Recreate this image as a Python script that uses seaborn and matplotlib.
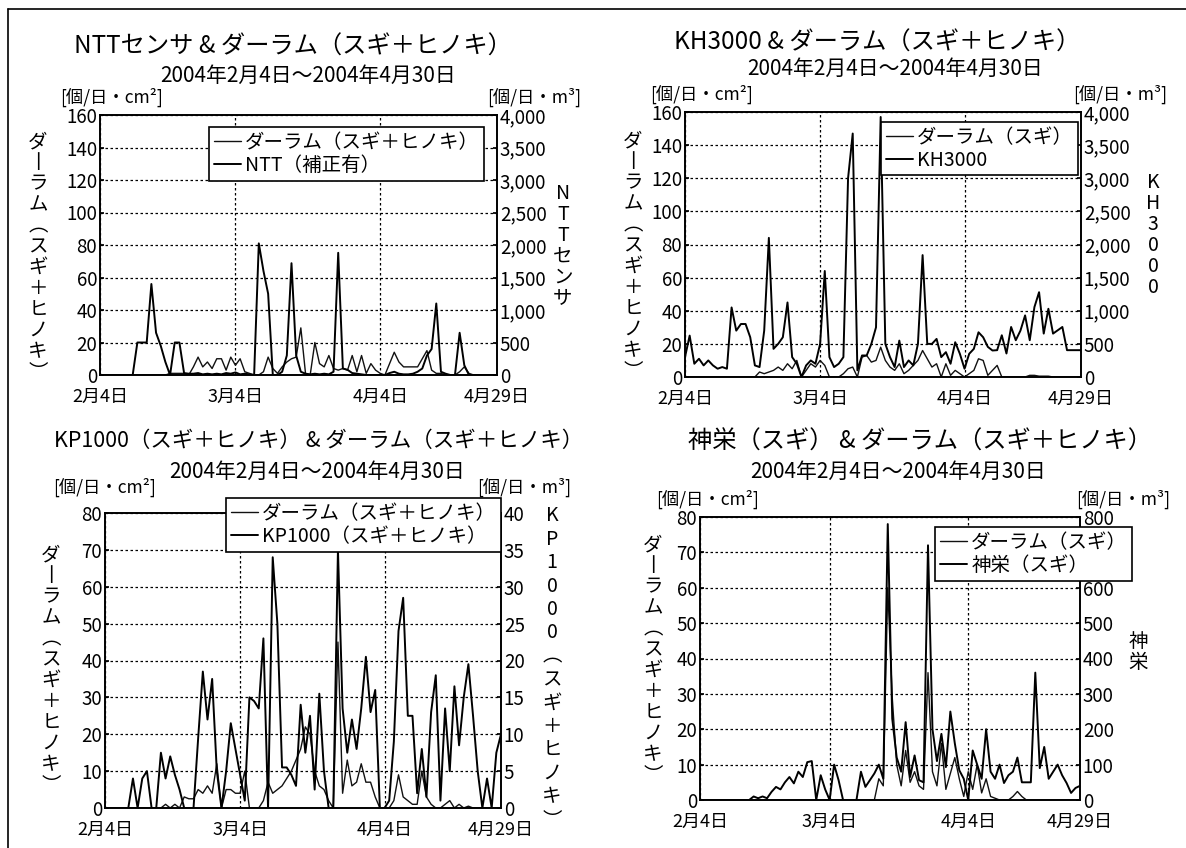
import numpy as np
import matplotlib
matplotlib.use('Agg')
import matplotlib.pyplot as plt
import seaborn as sns
from matplotlib.lines import Line2D
from matplotlib.ticker import FuncFormatter

# 日付軸 (0 = 2月4日, 85 = 4月29日)
days = list(range(86))
date_ticks = [0, 29, 60, 85]
date_labels = ['2月4日', '3月4日', '4月4日', '4月29日']

period = '2004年2月4日～2004年4月30日'
unit_left = '[個/日・cm²]'
unit_right = '[個/日・m³]'

# パネル1: NTTセンサ
ntt_durham = [0, 0, 0, 0, 0, 0, 0, 0, 0, 0,
              0, 0, 0, 0, 0, 1, 1, 1, 1, 0,
              5, 11, 5, 8, 4, 10, 10, 3, 11, 6,
              10, 2, 1, 0, 0, 2, 11, 4, 1, 5,
              8, 10, 11, 29, 1, 0, 20, 7, 5, 12,
              4, 3, 4, 3, 12, 2, 12, 1, 7, 3,
              1, 0, 7, 14, 8, 5, 5, 5, 5, 10,
              15, 3, 1, 1, 0, 0, 0, 2, 5, 1,
              0, 0, 0, 0, 0, 0]
ntt_sensor = [0, 0, 0, 0, 0, 0, 0, 0, 500, 500,
              500, 1400, 650, 450, 200, 0, 500, 500, 30, 20,
              20, 30, 10, 20, 10, 20, 10, 30, 20, 40,
              10, 20, 10, 0, 2025, 1600, 1250, 0, 0, 50,
              300, 1720, 300, 50, 20, 10, 20, 10, 20, 10,
              50, 1880, 100, 80, 30, 20, 10, 0, 0, 0,
              0, 0, 30, 50, 20, 10, 10, 20, 50, 100,
              300, 400, 1100, 50, 20, 0, 0, 650, 150, 0,
              0, 0, 0, 0, 0, 0]

# パネル2: KH3000
kh_durham = [0, 0, 0, 0, 0, 0, 0, 0, 0, 0,
             0, 0, 0, 0, 0, 0, 3, 2, 3, 4,
             6, 4, 8, 5, 10, 0, 4, 8, 6, 10,
             7, 0, 0, 0, 2, 5, 6, 0, 12, 13,
             9, 10, 18, 10, 6, 4, 8, 2, 4, 7,
             10, 16, 11, 6, 8, 0, 8, 1, 4, 2,
             0, 2, 4, 11, 10, 1, 4, 7, 0, 0,
             0, 0, 0, 0, 1, 1, 0.5, 0.5, 0.5, 0,
             0, 0, 0, 0, 0, 0]
kh_sensor = [300, 625, 200, 275, 175, 250, 175, 125, 150, 125,
             1050, 700, 800, 800, 600, 175, 150, 700, 2100, 425,
             500, 600, 1125, 300, 200, 0, 175, 250, 200, 500,
             1600, 300, 150, 200, 300, 3000, 3675, 100, 325, 325,
             500, 750, 3925, 500, 300, 150, 550, 150, 250, 175,
             500, 1840, 500, 500, 575, 300, 375, 200, 525, 350,
             125, 350, 425, 675, 600, 455, 400, 405, 630, 355,
             755, 555, 700, 930, 555, 1055, 1280, 655, 1030, 655,
             705, 755, 405, 405, 405, 405]

# パネル3: KP1000
kp_durham = [0, 0, 0, 0, 0, 0, 0, 0, 0, 0,
             0, 0, 0, 1, 0, 1, 0, 3, 2.5, 2.5,
             5, 4, 6, 4, 12, 0, 5, 5, 4, 4,
             10, 0, 0, 0, 2, 7, 4, 5, 6, 8,
             10, 13, 16, 22, 20, 10, 6, 5, 2, 0,
             45, 4, 13, 6, 7, 12, 7, 7, 3, 0,
             0, 0, 2, 9, 3, 2, 1, 1, 10, 3,
             1, 0, 0, 1, 2, 0, 1, 0, 0.5, 0,
             0, 0, 0, 0, 0, 0]
kp_sensor = [0, 0, 0, 0, 0, 0, 4, 0, 4, 5,
             0, 0, 7.5, 4, 7, 4.5, 2.5, 0, 0, 0,
             9.5, 18.5, 12, 17.5, 5, 0, 5, 11.5, 8, 4.5,
             1, 15, 14.5, 13.5, 23, 0, 34, 25, 5.5, 5.5,
             4.5, 3, 14, 7.5, 12.5, 2.5, 15.5, 5, 0, 0,
             35, 13.5, 7.5, 12, 8, 13.5, 20.5, 13, 16, 0,
             0, 1, 9, 24, 28.5, 12.5, 12.5, 2, 8, 1.5,
             13, 18, 1, 13.5, 5, 16.5, 8.5, 15, 19.5, 12.5,
             5, 0, 4, 0, 7.5, 10]

# パネル4: 神栄
sk_durham = [0, 0, 0, 0, 0, 0, 0, 0, 0, 0,
             0, 0, 0, 0, 0, 0, 0, 0, 0, 0,
             0, 0, 0, 0, 0, 0, 0, 0, 0, 0,
             0, 0, 0, 0, 0, 0, 0, 0, 0, 0,
             6, 4, 60, 29, 10, 4, 14, 5, 8, 4,
             3, 36, 8, 4, 16, 3, 7.5, 12, 6, 1,
             8, 3, 10, 2, 6, 1, 0.5, 0, 0, 0,
             1, 2.4, 1, 0, 0, 0, 0, 0, 0, 0,
             0, 0, 0, 0, 0, 0]
sk_sensor = [0, 0, 0, 0, 0, 0, 0, 0, 0, 0,
             0, 0, 10, 5, 10, 5, 23, 37, 30, 50,
             65, 47, 80, 65, 107, 110, 0, 70, 30, 0,
             100, 56, 0, 0, 0, 0, 80, 37, 56, 75,
             100, 60, 780, 230, 120, 80, 220, 65, 126, 56,
             50, 720, 200, 110, 187, 93, 250, 160, 84, 60,
             0, 140, 100, 60, 200, 80, 60, 100, 48, 70,
             80, 120, 50, 50, 50, 360, 90, 150, 60, 80,
             100, 70, 48, 20, 34, 40]

sns.set_theme(style='white', rc={'axes.edgecolor': 'black', 'axes.linewidth': 1.2,
                                 'xtick.color': 'black', 'ytick.color': 'black',
                                 'text.color': 'black', 'axes.labelcolor': 'black'})
plt.rcParams['font.family'] = ['Noto Sans CJK JP', 'DejaVu Sans']

W, H = 1186, 848
fig = plt.figure(figsize=(W / 100, H / 100), dpi=100)


def put(x, y, s, size, **kw):
    fig.text(x / W, 1 - y / H, s, fontsize=size, ha='center', va='center', **kw)


def vert(s):
    swap = {'ー': '丨', '（': '︵', '）': '︶'}
    return '\n'.join(swap.get(c, c) for c in s)


def panel(box, left_vals, right_vals, lmax, lstep, rmax, rstep, labels, anchor):
    l, t, r, b = box
    ax = fig.add_axes([l / W, 1 - b / H, (r - l) / W, (b - t) / H])
    ax2 = ax.twinx()
    sns.lineplot(x=days, y=left_vals, ax=ax, color='#111111', linewidth=1.0)
    sns.lineplot(x=days, y=right_vals, ax=ax2, color='black', linewidth=1.4)
    ax.set_xlim(0, 85)
    ax.set_ylim(0, lmax)
    ax2.set_ylim(0, rmax)
    ax.set_yticks(np.arange(0, lmax + 1, lstep))
    ax2.set_yticks(np.arange(0, rmax + 1, rstep))
    ax.set_xticks(date_ticks, date_labels)
    ax2.yaxis.set_major_formatter(FuncFormatter(lambda v, p: f'{int(v):,}'))
    ax.grid(True, color='black', linestyle=(0, (2, 2)), linewidth=0.9)
    ax2.grid(False)
    for a in (ax, ax2):
        a.tick_params(axis='y', labelsize=13.5, length=3, direction='in', pad=2)
        for sp in a.spines.values():
            sp.set_color('black')
            sp.set_linewidth(1.2)
    ax.tick_params(axis='x', labelsize=13, length=3, direction='in', pad=9)
    handles = [Line2D([], [], color='#111111', lw=1.0), Line2D([], [], color='black', lw=1.4)]
    leg = ax2.legend(handles, labels, loc='upper right', bbox_to_anchor=anchor,
                     fontsize=14, frameon=True, fancybox=False, framealpha=1,
                     edgecolor='black', borderpad=0.25, handlelength=1.4,
                     handletextpad=0.2, labelspacing=0.1, borderaxespad=0)
    leg.get_frame().set_linewidth(1.2)
    return ax, ax2


# パネル1
panel((100, 115, 497, 375), ntt_durham, ntt_sensor, 160, 20, 4000, 500,
      ['ダーラム（スギ＋ヒノキ）', 'NTT（補正有）'], (0.967, 0.954))
put(293, 47, 'NTTセンサ & ダーラム（スギ＋ヒノキ）', 17.5)
put(308, 76, period, 15)
put(112, 97, unit_left, 12.5)
put(534, 97, unit_right, 12.5)
put(38, 257, vert('ダーラム（スギ＋ヒノキ）'), 14, linespacing=1.0)
put(563, 246, vert('NTTセンサ'), 14, linespacing=1.0)

# パネル2
panel((685, 112, 1081, 377), kh_durham, kh_sensor, 160, 20, 4000, 500,
      ['ダーラム（スギ）', 'KH3000'], (0.992, 0.963))
put(877, 43, 'KH3000 & ダーラム（スギ＋ヒノキ）', 17.5)
put(895, 69, period, 15)
put(702, 94, unit_left, 12.5)
put(1120, 94, unit_right, 12.5)
put(633, 256, vert('ダーラム（スギ＋ヒノキ）'), 14, linespacing=1.0)
put(1153, 235, vert('KH3000'), 14, linespacing=1.0)

# パネル3
panel((105, 513, 501, 808), kp_durham, kp_sensor, 80, 10, 40, 5,
      ['ダーラム（スギ＋ヒノキ）', 'KP1000（スギ＋ヒノキ）'], (1.0, 1.051))
put(319, 441, 'KP1000（スギ＋ヒノキ） & ダーラム（スギ＋ヒノキ）', 15.5)
put(317, 472, period, 15)
put(105, 487, unit_left, 12.5)
put(524, 487, unit_right, 12.5)
put(51, 670, vert('ダーラム（スギ＋ヒノキ）'), 14, linespacing=1.0)
put(552, 668, vert('KP1000（スギ＋ヒノキ）'), 14, linespacing=1.15)

# パネル4
panel((700, 517, 1080, 800), sk_durham, sk_sensor, 80, 10, 800, 100,
      ['ダーラム（スギ）', '神栄（スギ）'], (1.137, 0.965))
put(920, 442, '神栄（スギ） & ダーラム（スギ＋ヒノキ）', 17.5)
put(898, 472, period, 15)
put(708, 499, unit_left, 12.5)
put(1123, 499, unit_right, 12.5)
put(653, 660, vert('ダーラム（スギ＋ヒノキ）'), 14, linespacing=1.0)
put(1138, 652, vert('神栄'), 14, linespacing=1.0)

# 外枠 (左と上)
fig.add_artist(Line2D([8 / W, 8 / W], [0, 1 - 9 / H], color='black', lw=1.2))
fig.add_artist(Line2D([8 / W, 1], [1 - 9 / H, 1 - 9 / H], color='black', lw=1.2))

fig.savefig('out.png', dpi=100)
